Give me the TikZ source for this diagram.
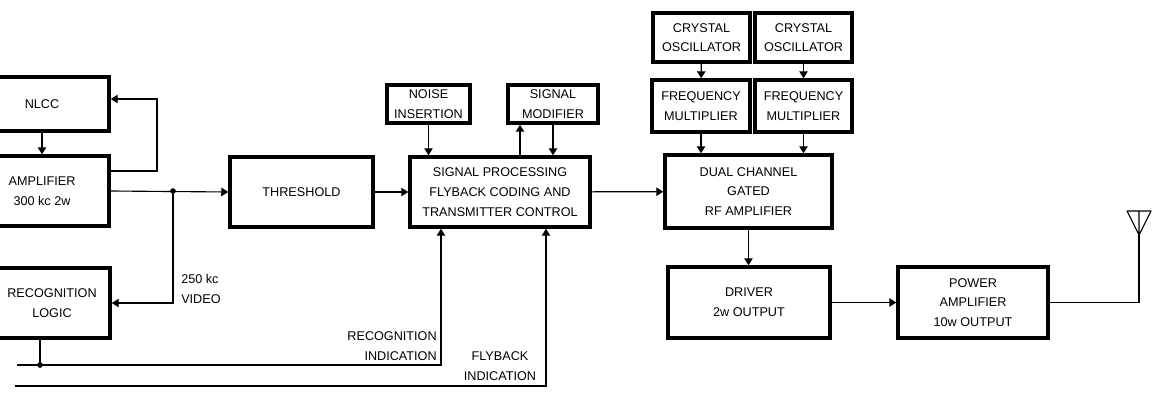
\documentclass[tikz,border=0pt]{standalone}
\usepackage{fontspec}
\setmainfont{Liberation Sans}
\usetikzlibrary{arrows.meta}
\begin{document}
\begin{tikzpicture}[x=0.025cm,y=-0.025cm,>={Triangle[length=5pt,width=6pt]},
  blk/.style={draw,line width=2.4pt,align=center,inner sep=1pt,font=\fontsize{9}{14}\selectfont},
  wire/.style={line width=0.8pt},
  lbl/.style={font=\fontsize{9}{14}\selectfont,inner sep=0pt}]
\useasboundingbox (0,0) rectangle (1159,402);
\clip (0,0) rectangle (1159,402);
% left column: boxes run off the page edge
\node[blk,minimum width=3.35cm,minimum height=1.35cm] (nlcc) at (42,104) {NLCC};
\node[blk,minimum width=3.35cm,minimum height=1.75cm] (amp) at (42,191) {AMPLIFIER\\300 kc 2w};
\node[blk,minimum width=2.9cm,minimum height=1.75cm] (logic) at (52,303) {RECOGNITION\\LOGIC};
% middle row
\node[blk,minimum width=3.575cm,minimum height=1.75cm] (thr) at (301.5,192) {THRESHOLD};
\node[blk,minimum width=4.5cm,minimum height=1.75cm] (sp) at (500,192) {SIGNAL PROCESSING\\FLYBACK CODING AND\\TRANSMITTER CONTROL};
\node[blk,minimum width=2.075cm,minimum height=0.95cm] (noise) at (428.5,104) {NOISE\\INSERTION};
\node[blk,minimum width=2.25cm,minimum height=0.95cm] (smod) at (553,104) {SIGNAL\\MODIFIER};
% transmitter chain
\node[blk,minimum width=2.425cm,minimum height=1.225cm] (xo1) at (701.5,37.5) {CRYSTAL\\OSCILLATOR};
\node[blk,minimum width=2.425cm,minimum height=1.225cm] (xo2) at (803.5,37.5) {CRYSTAL\\OSCILLATOR};
\node[blk,minimum width=2.45cm,minimum height=1.3cm] (fm1) at (701,106) {FREQUENCY\\MULTIPLIER};
\node[blk,minimum width=2.425cm,minimum height=1.3cm] (fm2) at (803.5,106) {FREQUENCY\\MULTIPLIER};
\node[blk,minimum width=4.175cm,minimum height=1.825cm] (rfa) at (748.5,191.5) {DUAL CHANNEL\\GATED\\RF AMPLIFIER};
\node[blk,minimum width=4.05cm,minimum height=1.775cm] (drv) at (749,302.5) {DRIVER\\2w OUTPUT};
\node[blk,minimum width=3.75cm,minimum height=1.775cm] (pa) at (973,302.5) {POWER\\AMPLIFIER\\10w OUTPUT};
% points the wires turn at
\coordinate (fb) at (157,99);
\coordinate (vj) at (173,191);
\coordinate (rl) at (17,365);
\coordinate (rj) at (40,365);
\coordinate (fl) at (15,386);
\coordinate (ant) at (1139,235);
\path ([xshift=-1.475cm]sp.south) coordinate (ri);
\path ([xshift=1.15cm]sp.south) coordinate (fi);
\path ([xshift=0.5cm]sp.north) coordinate (up1);
% wires
\draw[wire,->] (nlcc) -- (amp);
\draw[wire,->] ([yshift=0.5cm]amp.east) -| (fb) -- (nlcc.east |- fb);
\draw[wire,->] (amp.east) -- (thr.west);
\draw[wire,->] (vj) |- (logic.east);
\fill (vj) circle (2pt);
\node[lbl,align=left,anchor=west] (vid) at (181,289) {250 kc\\VIDEO};
\draw[wire,->] (thr) -- (sp);
\draw[wire,->] (noise) -- (noise |- sp.north);
\draw[wire,->] (up1) -- (up1 |- smod.south);
\draw[wire,->] (smod.south) -- (smod.south |- sp.north);
\draw[wire] (rl) -- (rj) (rj |- logic.south) -- (rj);
\draw[wire,->] (rj) -| (ri);
\fill (rj) circle (2pt);
\node[lbl,align=right,anchor=east] (rind) at (437,346) {RECOGNITION\\INDICATION};
\draw[wire,->] (fl) -| (fi);
\node[lbl,align=center] (find) at (500,366) {FLYBACK\\INDICATION};
\draw[wire,->] (sp) -- (rfa);
\draw[wire,->] (xo1) -- (fm1);
\draw[wire,->] (xo2) -- (fm2);
\draw[wire,->] (fm1) -- (fm1 |- rfa.north);
\draw[wire,->] (fm2) -- (fm2 |- rfa.north);
\draw[wire,->] (rfa) -- (rfa.south |- drv.north);
\draw[wire,->] (drv) -- (pa);
\draw[wire] (pa.east) -| (ant);
% antenna
\draw[wire,line join=round] (ant) -- ++(-12,-24) -- ++(24,0) -- cycle (ant) -- ++(0,-24);
\end{tikzpicture}
\end{document}
